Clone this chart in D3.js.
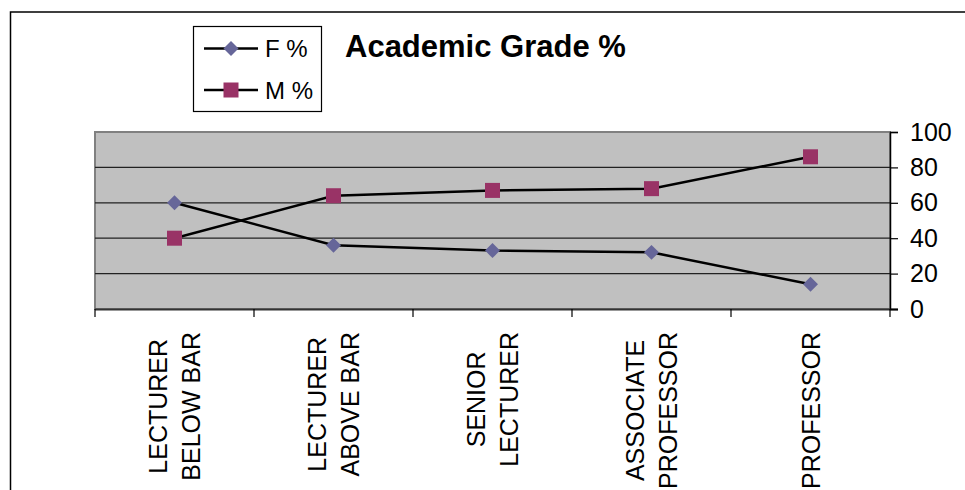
<!DOCTYPE html>
<html>
<head>
<meta charset="utf-8">
<script src="https://cdn.jsdelivr.net/npm/d3@7/dist/d3.min.js"></script>
<style>
  html, body { margin: 0; padding: 0; background: #fff; overflow: hidden; }
  text { font-family: "Liberation Sans", Arial, sans-serif; fill: #000; }
</style>
</head>
<body>
<svg id="chart" width="965" height="490"></svg>
<script>
var categoryLines = [
  ["LECTURER", "BELOW BAR"],
  ["LECTURER", "ABOVE BAR"],
  ["SENIOR", "LECTURER"],
  ["ASSOCIATE", "PROFESSOR"],
  ["PROFESSOR"]
]
var femalePct = [60, 36, 33, 32, 14]
var malePct = [40, 64, 67, 68, 86]
var yTicks = [0, 20, 40, 60, 80, 100]
var seriesNames = ["F %", "M %"]

var svg = d3.select("#chart")
var plot = {left: 95, right: 890, top: 132, bottom: 309}

// outer chart frame (runs off the picture on right and bottom)
svg.append("rect")
  .attr("x", 10.5).attr("y", 12)
  .attr("width", 1000).attr("height", 600)
  .attr("fill", "none").attr("stroke", "#000").attr("stroke-width", 1.5)

var x = d3.scaleBand()
  .domain(d3.range(categoryLines.length))
  .range([plot.left, plot.right])
  .padding(0)

var y = d3.scaleLinear()
  .domain([0, 100])
  .range([plot.bottom, plot.top])

// plot area
svg.append("rect")
  .attr("x", plot.left).attr("y", plot.top)
  .attr("width", plot.right - plot.left).attr("height", plot.bottom - plot.top)
  .attr("fill", "#c0c0c0")
  .attr("stroke", "#808080").attr("stroke-width", 2)

// gridlines
svg.selectAll(".grid")
  .data(yTicks.filter(function(d){ return d > 0 && d < 100 }))
  .enter()
  .append("line")
  .attr("x1", plot.left).attr("x2", plot.right)
  .attr("y1", function(d){ return y(d) }).attr("y2", function(d){ return y(d) })
  .attr("stroke", "#222").attr("stroke-width", 1.2)

// bottom axis line + boundary ticks
svg.append("line")
  .attr("x1", plot.left).attr("x2", plot.right + 8)
  .attr("y1", plot.bottom + 0.5).attr("y2", plot.bottom + 0.5)
  .attr("stroke", "#333").attr("stroke-width", 2)

var edges = d3.range(categoryLines.length).map(function(i){ return x(i) }).concat([plot.right])
svg.selectAll(".xtick")
  .data(edges)
  .enter()
  .append("line")
  .attr("x1", function(d){ return d }).attr("x2", function(d){ return d })
  .attr("y1", plot.bottom).attr("y2", plot.bottom + 8)
  .attr("stroke", "#000").attr("stroke-width", 1.2)

// right value axis
var yAxis = svg.append("g")
  .attr("transform", "translate(" + plot.right + ",0)")
  .call(d3.axisRight(y).tickValues(yTicks).tickSize(8).tickPadding(12))
yAxis.select(".domain").attr("stroke", "#000").attr("stroke-width", 1.5)
yAxis.selectAll(".tick line").attr("stroke", "#000").attr("stroke-width", 1.2)
yAxis.selectAll(".tick text")
  .attr("font-size", 25)
  .attr("font-family", "Liberation Sans, Arial, sans-serif")
  .attr("fill", "#000")

// category labels, rotated, lines centred in a block that hangs from y=332
var labelTop = 332
var lineGap = 33
categoryLines.forEach(function(lines, i) {
  var cx = x(i) + x.bandwidth() / 2
  var g = svg.append("g")
  var texts = lines.map(function(t, j) {
    return g.append("text").attr("font-size", 25).text(t)
  })
  var maxLen = d3.max(texts, function(t){ return t.node().getComputedTextLength() })
  var cy = labelTop + maxLen / 2
  texts.forEach(function(t, j) {
    var lx = cx + (j - (lines.length - 1) / 2) * lineGap + 9
    t.attr("text-anchor", "middle")
      .attr("transform", "translate(" + lx + "," + cy + ") rotate(-90)")
  })
})

// series
var line = d3.line()
  .x(function(d, i){ return x(i) + x.bandwidth() / 2 })
  .y(function(d){ return y(d) })

svg.append("path").datum(femalePct)
  .attr("d", line).attr("fill", "none").attr("stroke", "#000").attr("stroke-width", 2.5)
svg.append("path").datum(malePct)
  .attr("d", line).attr("fill", "none").attr("stroke", "#000").attr("stroke-width", 2.5)

var diamond = d3.symbol().type(d3.symbolSquare).size(112)
svg.selectAll(".fmark")
  .data(femalePct)
  .enter()
  .append("path")
  .attr("d", diamond)
  .attr("transform", function(d, i){ return "translate(" + (x(i) + x.bandwidth() / 2) + "," + y(d) + ") rotate(45)" })
  .attr("fill", "#666699")

svg.selectAll(".mmark")
  .data(malePct)
  .enter()
  .append("rect")
  .attr("x", function(d, i){ return x(i) + x.bandwidth() / 2 - 7.5 })
  .attr("y", function(d){ return y(d) - 7.5 })
  .attr("width", 15).attr("height", 15)
  .attr("fill", "#993366")

// legend
var legend = svg.append("g")
legend.append("rect")
  .attr("x", 193.5).attr("y", 26.5).attr("width", 128).attr("height", 85)
  .attr("fill", "#fff").attr("stroke", "#000").attr("stroke-width", 1.2)

var legendY = [48.5, 90]
seriesNames.forEach(function(name, i) {
  legend.append("line")
    .attr("x1", 204).attr("x2", 258)
    .attr("y1", legendY[i]).attr("y2", legendY[i])
    .attr("stroke", "#000").attr("stroke-width", 2.5)
  if (i === 0) {
    legend.append("path")
      .attr("d", diamond)
      .attr("transform", "translate(231," + legendY[i] + ") rotate(45)")
      .attr("fill", "#666699")
  } else {
    legend.append("rect")
      .attr("x", 223.5).attr("y", legendY[i] - 7.5)
      .attr("width", 15).attr("height", 15)
      .attr("fill", "#993366")
  }
  legend.append("text")
    .attr("x", 265).attr("y", legendY[i] + 8.5)
    .attr("font-size", 24)
    .text(name)
})

// title
svg.append("text")
  .attr("x", 345).attr("y", 57)
  .attr("font-size", 31).attr("font-weight", "bold")
  .text("Academic Grade %")
</script>
</body>
</html>
